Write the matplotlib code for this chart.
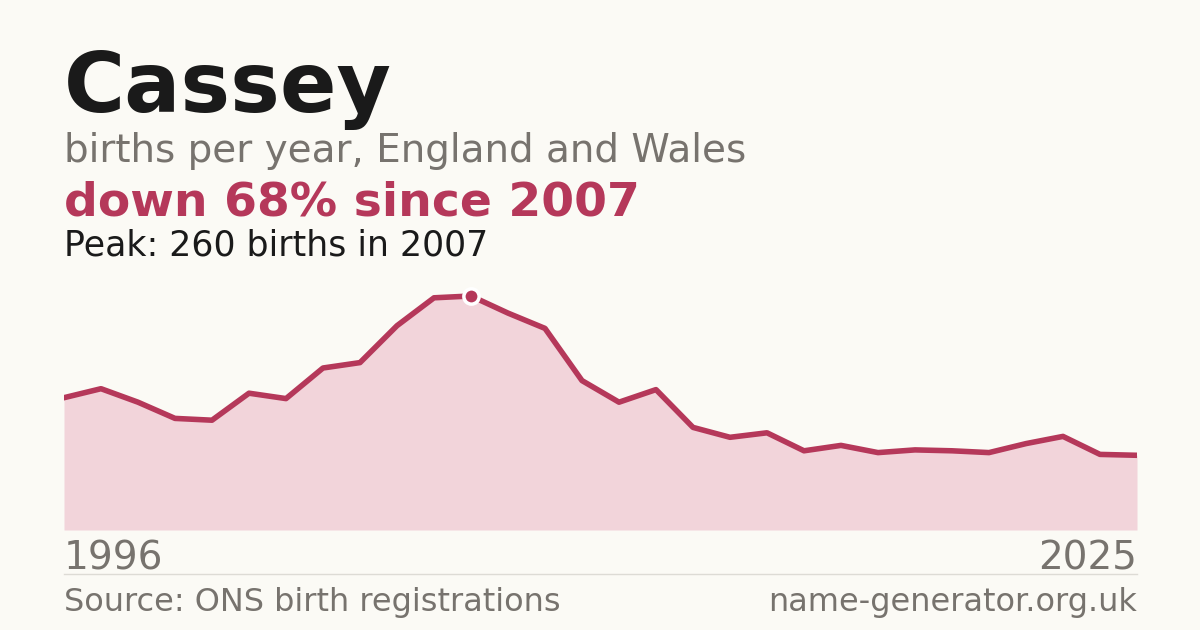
import matplotlib
matplotlib.use("Agg")
import matplotlib.pyplot as plt

years = list(range(1996, 2026))
births = [147, 157, 142, 124, 122, 152, 146, 180, 186, 227, 258, 260, 241, 224, 166,
          142, 156, 114, 103, 108, 88, 94, 86, 89, 88, 86, 96, 104, 84, 83]
peak_year, peak_val = 2007, 260

bg = "#fbfaf5"
red = "#b5385a"
fig = plt.figure(figsize=(12, 6.3), dpi=100, facecolor=bg)
ax = fig.add_axes([64/1200, 1-530/630, (1137-64)/1200, 250/630])
ax.set_facecolor(bg)
ax.fill_between(years, births, 0, color="#f2d4da", lw=0)
ax.plot(years, births, color=red, lw=4, solid_joinstyle="round")
ax.plot([peak_year], [peak_val], "o", ms=11, color=red, mec="white", mew=2.5, zorder=5)
ax.set_xlim(1996, 2025)
ax.set_ylim(0, 260*250/234)
ax.axis("off")

fig.text(64/1200, 1-112/630, "Cassey", fontsize=60, fontweight="bold", color="#1a1a1a")
fig.text(64/1200, 1-162/630, "births per year, England and Wales", fontsize=28, color="#77736e")
fig.text(64/1200, 1-215/630, "down 68% since 2007", fontsize=34, fontweight="bold", color=red)
fig.text(64/1200, 1-255/630, "Peak: 260 births in 2007", fontsize=25, color="#1a1a1a")
fig.text(64/1200, 1-570/630, "1996", fontsize=28, color="#77736e")
fig.text(1137/1200, 1-570/630, "2025", fontsize=28, color="#77736e", ha="right")
fig.add_artist(plt.Line2D([64/1200, 1137/1200], [1-574/630]*2, color="#dddbd5", lw=1))
fig.text(64/1200, 1-611/630, "Source: ONS birth registrations", fontsize=23, color="#77736e")
fig.text(1137/1200, 1-611/630, "name-generator.org.uk", fontsize=23, color="#77736e", ha="right")
fig.savefig("out.png", dpi=100, facecolor=bg)
